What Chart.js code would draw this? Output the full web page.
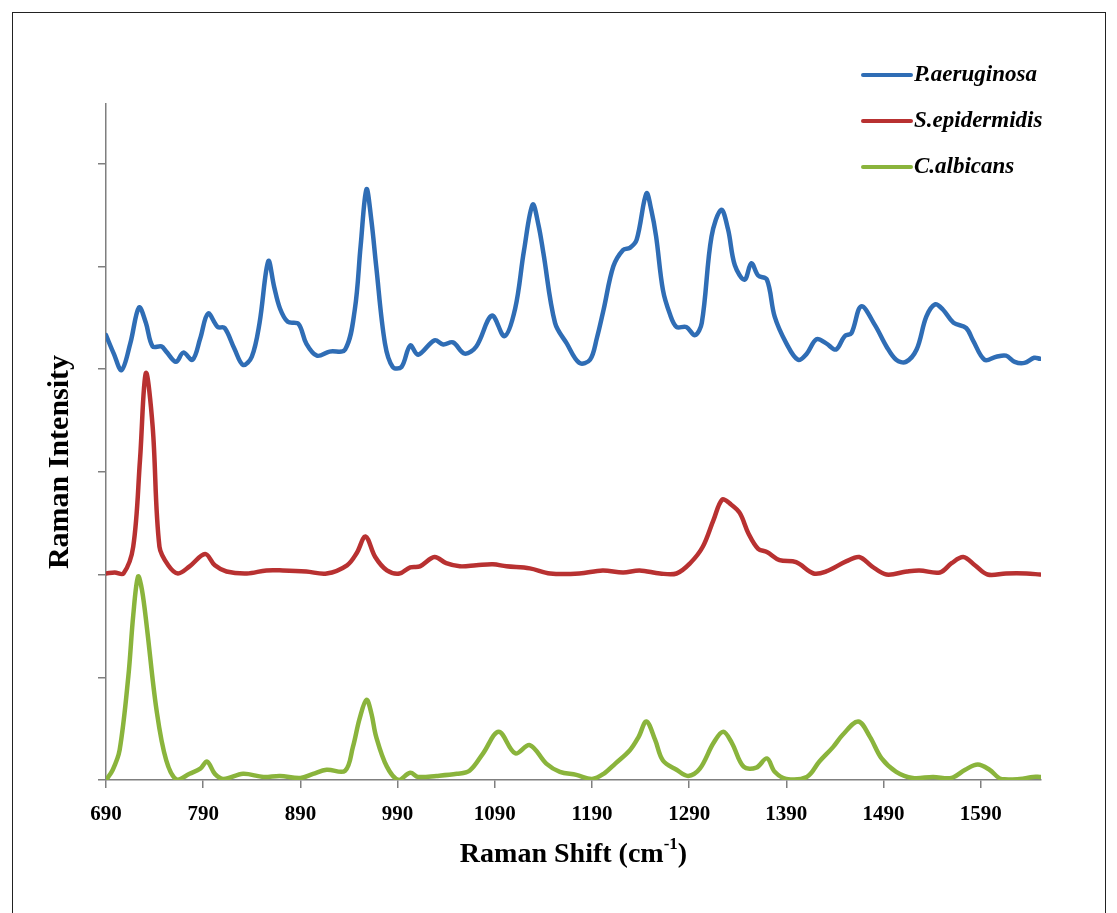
<!DOCTYPE html>
<html>
<head>
<meta charset="utf-8">
<script src="https://cdn.jsdelivr.net/npm/chart.js@4.4.1/dist/chart.umd.min.js"></script>
<style>
  body { margin: 0; background: #fff; }
  #wrap { position: relative; width: 1117px; height: 913px; overflow: hidden; }
  #frame { position: absolute; left: 12px; top: 12px; width: 1092px; height: 930px; border: 1.5px solid #222; pointer-events: none; }
</style>
</head>
<body>
<div id="wrap">
  <canvas id="ramanChart"></canvas>
  <div id="frame"></div>
</div>
<script>
// tick labels
const xTickLabels = [690, 790, 890, 990, 1090, 1190, 1290, 1390, 1490, 1590];
const yTickValues = [0, 1, 2, 3, 4, 5, 6];

// P.aeruginosa (offset spectrum, top)
const paShift = [690, 698, 706, 715, 724, 731, 738, 747, 752, 762, 769.5, 779, 787, 795, 805, 812, 822, 831, 840, 848, 857, 863, 869, 877, 888, 896, 907, 920, 936, 946, 952, 958, 963, 968, 977, 985, 994, 1003, 1011, 1028, 1037, 1047, 1059, 1071, 1087, 1100, 1111, 1120, 1129, 1135, 1140, 1152, 1164, 1177, 1188, 1195, 1202, 1212, 1222, 1229, 1236, 1246, 1251, 1256, 1263, 1270, 1277, 1287, 1296, 1303, 1313, 1323, 1330, 1337, 1347, 1354, 1361, 1370, 1378, 1390, 1402, 1411, 1421, 1431, 1441, 1450, 1457, 1467, 1481, 1493, 1503, 1513, 1524, 1534, 1543, 1551, 1562, 1575, 1582, 1594, 1606, 1616, 1625, 1635, 1645, 1651];
const paIntensity = [4.33, 4.15, 3.99, 4.25, 4.60, 4.45, 4.22, 4.22, 4.17, 4.07, 4.16, 4.09, 4.30, 4.54, 4.41, 4.40, 4.20, 4.04, 4.12, 4.45, 5.05, 4.80, 4.59, 4.46, 4.44, 4.25, 4.13, 4.17, 4.19, 4.58, 5.20, 5.75, 5.45, 5.00, 4.25, 4.02, 4.02, 4.23, 4.14, 4.28, 4.24, 4.26, 4.15, 4.22, 4.52, 4.32, 4.59, 5.15, 5.60, 5.40, 5.13, 4.45, 4.25, 4.06, 4.09, 4.30, 4.58, 5.00, 5.16, 5.18, 5.26, 5.71, 5.55, 5.29, 4.77, 4.54, 4.41, 4.41, 4.33, 4.45, 5.29, 5.55, 5.36, 5.01, 4.87, 5.03, 4.91, 4.87, 4.51, 4.25, 4.09, 4.15, 4.29, 4.25, 4.19, 4.32, 4.35, 4.61, 4.43, 4.22, 4.09, 4.07, 4.19, 4.51, 4.63, 4.58, 4.45, 4.40, 4.28, 4.09, 4.12, 4.13, 4.07, 4.06, 4.11, 4.10];

// S.epidermidis (middle)
const seShift = [690, 699, 708, 718, 725, 731, 738, 745, 754, 764, 776, 792, 802, 814, 835, 855, 872, 896, 917, 938, 948, 957, 967, 979, 992, 1003, 1013, 1028, 1040, 1054, 1071, 1088, 1102, 1126, 1147, 1177, 1201, 1222, 1239, 1260, 1277, 1291, 1304, 1315, 1324, 1332, 1342, 1351, 1361, 1370, 1383, 1400, 1418, 1431, 1452, 1465, 1478, 1493, 1514, 1527, 1548, 1560, 1572, 1584, 1597, 1616, 1637, 1651];
const seIntensity = [2.01, 2.02, 2.01, 2.27, 3.12, 3.96, 3.44, 2.27, 2.09, 2.01, 2.08, 2.20, 2.09, 2.03, 2.01, 2.04, 2.04, 2.03, 2.01, 2.09, 2.21, 2.37, 2.17, 2.04, 2.01, 2.07, 2.08, 2.17, 2.11, 2.08, 2.09, 2.10, 2.08, 2.06, 2.01, 2.01, 2.04, 2.02, 2.04, 2.01, 2.01, 2.11, 2.27, 2.53, 2.73, 2.69, 2.60, 2.40, 2.25, 2.22, 2.14, 2.12, 2.01, 2.03, 2.13, 2.17, 2.08, 2.00, 2.03, 2.04, 2.02, 2.11, 2.17, 2.09, 2.00, 2.01, 2.01, 2.00];

// C.albicans (bottom)
const caShift = [690, 697, 704, 713, 718, 723, 727, 732, 742, 752, 763, 776, 787, 794, 802, 811, 831, 852, 869, 890, 903, 917, 936, 944, 951, 958, 963, 968, 979, 991, 1003, 1011, 1030, 1051, 1064, 1078, 1094, 1111, 1126, 1143, 1157, 1174, 1190, 1202, 1214, 1229, 1238, 1246, 1255, 1263, 1277, 1289, 1301, 1315, 1325, 1334, 1346, 1359, 1370, 1378, 1390, 1411, 1424, 1438, 1448, 1464, 1476, 1488, 1503, 1520, 1541, 1560, 1574, 1587, 1599, 1611, 1630, 1644, 1651];
const caIntensity = [0.00, 0.10, 0.29, 1.01, 1.60, 1.98, 1.85, 1.49, 0.68, 0.19, 0.00, 0.06, 0.11, 0.18, 0.06, 0.01, 0.06, 0.03, 0.04, 0.02, 0.06, 0.10, 0.09, 0.32, 0.60, 0.78, 0.65, 0.42, 0.13, 0.00, 0.07, 0.03, 0.04, 0.06, 0.09, 0.26, 0.47, 0.26, 0.34, 0.16, 0.08, 0.05, 0.01, 0.06, 0.16, 0.29, 0.42, 0.57, 0.39, 0.19, 0.10, 0.04, 0.11, 0.36, 0.47, 0.36, 0.13, 0.12, 0.21, 0.08, 0.01, 0.03, 0.18, 0.32, 0.44, 0.57, 0.42, 0.21, 0.08, 0.02, 0.03, 0.02, 0.10, 0.15, 0.10, 0.01, 0.01, 0.03, 0.03];

const seriesNames = ['P.aeruginosa', 'S.epidermidis', 'C.albicans'];
const seriesColors = ['#2f6db5', '#b83131', '#8ab43c'];

const toPoints = (xs, ys) => xs.map((x, i) => ({ x: x, y: ys[i] }));

const serif = '"Liberation Serif", "Times New Roman", serif';

// titles and legend drawn on the canvas (legend sits over the plot area)
const overlayPlugin = {
        id: 'overlay',
        afterDraw(chart) {
                const ctx = chart.ctx;
                const area = chart.chartArea;
                ctx.save();
                ctx.fillStyle = '#000';

                // y title
                ctx.save();
                ctx.translate(60, 462);
                ctx.rotate(-Math.PI / 2);
                ctx.font = 'bold 30px ' + serif;
                ctx.textAlign = 'center';
                ctx.textBaseline = 'middle';
                ctx.fillText('Raman Intensity', 0, 0);
                ctx.restore();

                // x title with superscript
                const main = 'Raman Shift (cm';
                const sup = '-1';
                ctx.font = 'bold 28px ' + serif;
                const wMain = ctx.measureText(main).width;
                const wClose = ctx.measureText(')').width;
                ctx.font = 'bold 17px ' + serif;
                const wSup = ctx.measureText(sup).width;
                const total = wMain + wSup + wClose;
                let x = (area.left + area.right) / 2 - total / 2;
                const y = 855;
                ctx.textBaseline = 'middle';
                ctx.textAlign = 'left';
                ctx.font = 'bold 28px ' + serif;
                ctx.fillText(main, x, y);
                x += wMain;
                ctx.font = 'bold 17px ' + serif;
                ctx.fillText(sup, x, y - 10);
                x += wSup;
                ctx.font = 'bold 28px ' + serif;
                ctx.fillText(')', x, y);

                // legend
                const rows = [75, 121, 167];
                ctx.font = 'italic bold 23px ' + serif;
                ctx.lineCap = 'round';
                rows.forEach((ry, i) => {
                        ctx.strokeStyle = seriesColors[i];
                        ctx.lineWidth = 4;
                        ctx.beginPath();
                        ctx.moveTo(863, ry);
                        ctx.lineTo(911, ry);
                        ctx.stroke();
                        ctx.fillText(seriesNames[i], 914, ry);
                });
                ctx.restore();
        }
};

const data = {
        datasets: [
                { label: seriesNames[0], data: toPoints(paShift, paIntensity), borderColor: seriesColors[0] },
                { label: seriesNames[1], data: toPoints(seShift, seIntensity), borderColor: seriesColors[1] },
                { label: seriesNames[2], data: toPoints(caShift, caIntensity), borderColor: seriesColors[2] }
        ]
};

const config = {
        type: 'line',
        data: data,
        options: {
                responsive: true,
                maintainAspectRatio: false,
                animation: false,
                layout: { padding: { left: 0, top: 104, right: 76, bottom: 0 } },
                elements: {
                        point: { radius: 0 },
                        line: { borderWidth: 4.5, tension: 0.35, fill: false, borderJoinStyle: 'round', borderCapStyle: 'round' }
                },
                plugins: {
                        legend: { display: false },
                        tooltip: { enabled: false }
                },
                scales: {
                        x: {
                                type: 'linear',
                                min: 690,
                                max: 1652,
                                afterBuildTicks: (scale) => { scale.ticks = xTickLabels.map(v => ({ value: v })); },
                                afterFit: (scale) => { scale.height = 133; },
                                border: { color: '#7f7f7f', width: 1.5 },
                                grid: { drawOnChartArea: false, tickLength: 8, color: '#7f7f7f', lineWidth: 1.5 },
                                ticks: {
                                        color: '#000',
                                        padding: 14,
                                        maxRotation: 0,
                                        callback: (value) => String(value),
                                        font: { family: serif, size: 21, weight: 'bold' }
                                }
                        },
                        y: {
                                type: 'linear',
                                min: 0,
                                max: 6.58,
                                afterBuildTicks: (scale) => { scale.ticks = yTickValues.map(v => ({ value: v })); },
                                afterFit: (scale) => { scale.width = 106; },
                                border: { color: '#7f7f7f', width: 1.5 },
                                grid: { drawOnChartArea: false, tickLength: 8, color: '#7f7f7f', lineWidth: 1.5 },
                                ticks: { display: false }
                        }
                }
        },
        plugins: [overlayPlugin]
};

const ramanChart = new Chart(document.getElementById('ramanChart').getContext('2d'), config);
</script>
</body>
</html>
